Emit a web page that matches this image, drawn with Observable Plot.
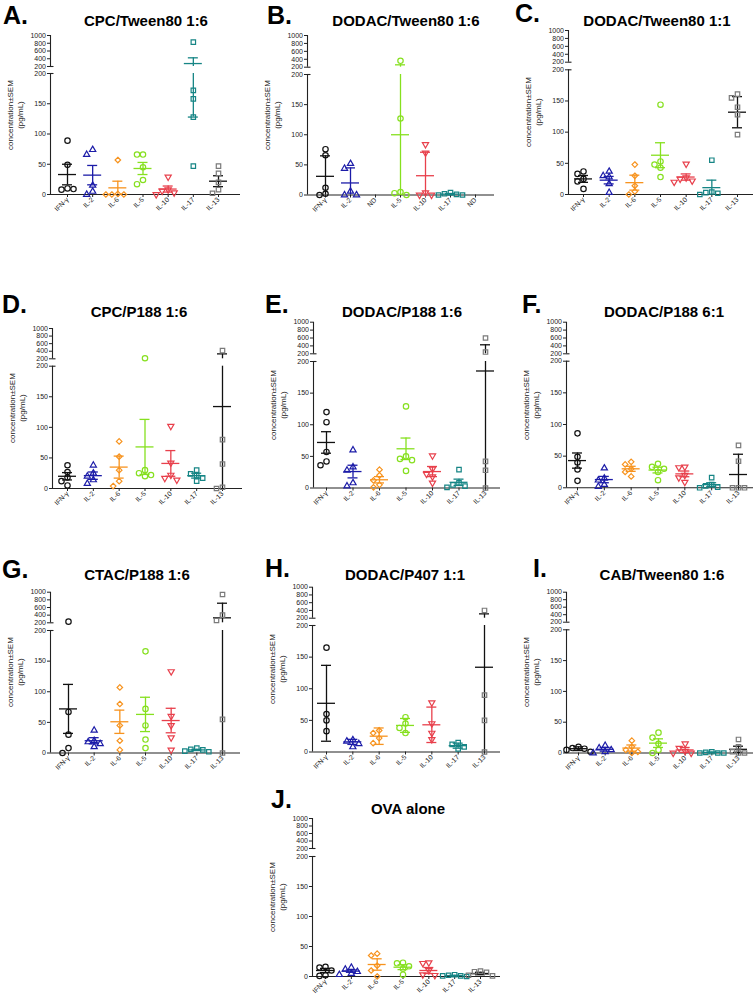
<!DOCTYPE html>
<html><head><meta charset="utf-8">
<script src="https://cdn.jsdelivr.net/npm/d3@7"></script>
<script src="https://cdn.jsdelivr.net/npm/@observablehq/plot@0.6"></script>
<style>
body{margin:0;background:#fff;font-family:"Liberation Sans",Arial,sans-serif;}
#chart{position:relative;width:755px;height:1000px;overflow:hidden;background:#fff;}
.lbl{position:absolute;font-weight:bold;font-size:25px;line-height:1;white-space:nowrap;color:#000;}
.ttl{position:absolute;font-weight:bold;font-size:15px;line-height:1;white-space:nowrap;transform:translateX(-50%);color:#000;}
.yt{position:absolute;font-size:8px;line-height:10px;white-space:nowrap;text-align:center;transform:translate(-50%,-50%) rotate(-90deg);color:#222;}
</style></head><body><div id="chart"></div>
<script>
// ---------- data ----------
const cytokines = ["IFN-γ","IL-2","IL-6","IL-5","IL-10","IL-17","IL-13"];
const bLabels = ["IFN-γ","IL-2","ND","IL-5","IL-10","IL-17","ND"];
const panelKeys = ["A","B","C","D","E","F","G","H","I","J"];
const panelTitles = ["CPC/Tween80 1:6","DODAC/Tween80 1:6","DODAC/Tween80 1:1","CPC/P188 1:6","DODAC/P188 1:6","DODAC/P188 6:1","CTAC/P188 1:6","DODAC/P407 1:1","CAB/Tween80 1:6","OVA alone"];
const yTicks = [0,50,100,150,200,200.001,400,600,800,1000];

const A_pts = [[89,49,10,8,9],[74,66,15,5,0],[57,1,0,0,0],[66,66,45,24,17],[29,8,6,3,0],[830,172,158,128,47],[47,35,20,8,2]];
const A_mean = [33,32,11,43,9,276,22];
const A_err = [17,16,11,10,5,148,9];

const B_pts = [[76,66,12,2,0],[52,44,6,0,0],[],[362,127,5,3,0],[84,70,4,0,0],[4,2,1,0,0],[]];
const B_mean = [31,20,null,100,32,1.5,null];
const B_err = [34,25,null,160,39,1,null];

const C_pts = [[37,33,25,21,9],[37,30,28,17,3],[48,30,14,5,0],[144,53,48,43,28],[49,27,25,22,20],[55,4,3,2,0],[161,155,140,128,96]];
const C_mean = [25,23,19,63,28,11,132];
const C_err = [5.5,6,12,20,5,12,25];

const D_pts = [[38,27,18,12,5],[38,25,20,14,8],[77,52,30,12,4],[215,30,25,22,20],[102,42,22,17,14],[30,24,21,17,12],[415,80,40,2,0]];
const D_mean = [20,21,35,68,41,21,134];
const D_err = [6,6,18,45,21,4,196];

const E_pts = [[120,104,57,42,36],[60,33,28,8,3],[29,20,12,5,1],[129,50,46,44,27],[51,30,22,18,8],[29,8,5,3,1],[600,245,42,28,0]];
const E_mean = [72,26,13,62,26,9,185];
const E_err = [17,10,5,17,8,5,243];

const F_pts = [[86,49,40,29,11],[31,15,12,5,2],[41,37,30,25,18],[38,33,30,25,12],[33,32,20,16,9],[16,5,3,1,0],[67,42,0,0,0]];
const F_mean = [43,13,30,28,22,5,21];
const F_err = [12,5,4,4.5,4.5,3,32];

const G_pts = [[230,67,30,8,0],[37,20,18,15,10],[107,80,45,20,5],[166,72,45,22,8],[133,60,45,25,5],[8,6,5,3,2],[940,400,260,55,0]];
const G_mean = [72,20,51,63,53,5,330];
const G_err = [40,5,19,28,20,1,382];

const H_pts = [[165,60,50,33],[19,17,13,8],[34,30,22,14],[55,45,38,30],[78,45,30,20],[15,12,8,5],[400,90,50,0]];
const H_mean = [77,16,25,42,43,10,134];
const H_err = [60,4,13,11,28,4,178];

const I_pts = [[10,8,7,5,2],[12,8,5,2,0],[20,10,5,2,0],[33,25,15,5,0],[15,8,3,0,0],[2,1,0,0,0],[22,10,2,0,0]];
const I_mean = [7,6,8,16,5,1,6];
const I_err = [3,3,5,7,4,0.5,5];

const J_pts = [[16,15,10,2,1],[15,12,8,5,3],[38,35,18,10,0],[23,22,17,13,3],[23,22,10,3,2],[3,2,1,1,0],[9,8,7,2,1]];
const J_mean = [10,9,20,15.5,10,1.5,5];
const J_err = [3.5,2,9.5,4,5,0.5,2];

const panelData = {A:[A_pts,A_mean,A_err],B:[B_pts,B_mean,B_err],C:[C_pts,C_mean,C_err],D:[D_pts,D_mean,D_err],E:[E_pts,E_mean,E_err],F:[F_pts,F_mean,F_err],G:[G_pts,G_mean,G_err],H:[H_pts,H_mean,H_err],I:[I_pts,I_mean,I_err],J:[J_pts,J_mean,J_err]};

// ---------- style ----------
const pointColors = ["#111111","#1c1ca8","#f7931e","#86e01f","#e8404c","#168585","#7a7a7a"];
const lineColors  = ["#111111","#1c1ca8","#f7931e","#86e01f","#e8404c","#168585","#111111"];
const triDown = {draw(context, size) {
  const s3 = Math.sqrt(3);
  const y = -Math.sqrt(size / (s3 * 3));
  context.moveTo(0, -y * 2);
  context.lineTo(-s3 * y, y);
  context.lineTo(s3 * y, y);
  context.closePath();
}};
const symbols = ["circle","triangle","diamond2","circle",triDown,"square","square"];
const symR = [2.7, 2.3, 2.5, 2.7, 2.3, 2.5, 2.5];

// ---------- layout (page pixels) ----------
const layout = {
 A:{axisX:50,endX:240,xFirst:67,xLast:218,y0:194,y200l:73,y200u:66,y1000:35,lx:3,lb:23.5,tx:146,tb:26},
 B:{axisX:307,endX:494,xFirst:325,xLast:475,y0:194.5,y200l:74,y200u:66.7,y1000:35,lx:267,lb:23.5,tx:406,tb:26},
 C:{axisX:568,endX:753,xFirst:583,xLast:737,y0:194,y200l:69.3,y200u:61.7,y1000:30,lx:515,lb:22,tx:657,tb:26},
 D:{axisX:52,endX:242,xFirst:67,xLast:222,y0:488,y200l:365.7,y200u:358.3,y1000:328,lx:2,lb:313,tx:139,tb:317},
 E:{axisX:313,endX:500,xFirst:326,xLast:485,y0:487.5,y200l:361,y200u:353.3,y1000:321.7,lx:265,lb:313,tx:402,tb:317},
 F:{axisX:566,endX:753,xFirst:577,xLast:738,y0:487.3,y200l:360.7,y200u:353.3,y1000:321.7,lx:522,lb:313,tx:664,tb:317},
 G:{axisX:50,endX:240,xFirst:68,xLast:222,y0:752.5,y200l:630,y200u:622.3,y1000:591.7,lx:2,lb:578,tx:137,tb:580},
 H:{axisX:312,endX:500,xFirst:326,xLast:484,y0:751.5,y200l:625,y200u:617.7,y1000:586.7,lx:265,lb:577,tx:405,tb:580},
 I:{axisX:566,endX:753,xFirst:578,xLast:738,y0:752.5,y200l:629.3,y200u:621.7,y1000:591.7,lx:533,lb:577,tx:662,tb:580},
 J:{axisX:312,endX:500,xFirst:325,xLast:480,y0:976,y200l:856,y200u:848,y1000:818,lx:271,lb:808,tx:408,tb:814}
};

const chart = document.getElementById("chart");

function addDiv(cls, text, left, top) {
  const d = document.createElement("div");
  d.className = cls; d.textContent = text;
  d.style.left = left + "px"; d.style.top = top + "px";
  chart.appendChild(d); return d;
}

function drawPanel(key, idx) {
  const L = layout[key];
  const [pts, means, errs] = panelData[key];
  const labels = key === "B" ? bLabels : cytokines;
  const step = (L.xLast - L.xFirst) / 6;
  const x0 = (L.axisX - L.xFirst) / step, x1 = (L.endX - L.xFirst) / step;
  const lowK = (L.y0 - L.y200l) / 200, upK = (L.y200u - L.y1000) / 800;
  // broken axis: 0–200 linear, then a gap, then 200–1000 compressed
  const brk = v => v <= 200 ? v * lowK : (L.y0 - L.y200u) + (v - 200) * upK;
  const ax = "#222";
  const marks = [
    Plot.ruleX([x0], {y1: 0, y2: 200, stroke: ax, strokeWidth: 1.1}),
    Plot.ruleX([x0], {y1: 200.001, y2: 1000, stroke: ax, strokeWidth: 1.1}),
    Plot.ruleY([0], {x1: x0, x2: x1, stroke: ax, strokeWidth: 1.1}),
    Plot.ruleY([200, 200.001], {y: d => d, x1: x0, x2: x0 + 3.5 / step, stroke: ax, strokeWidth: 1.1}),
    Plot.ruleY(yTicks, {y: d => d, x1: x0 - 3 / step, x2: x0, stroke: ax, strokeWidth: 1}),
    Plot.text(yTicks, {y: d => d, x: x0, dx: -4.5, text: d => String(Math.round(d)), textAnchor: "end", fontSize: 7, fill: "#222"})
  ];
  const mh = 9 / step, ch = 5 / step;
  pts.forEach((arr, i) => {
    const placed = [], dots = [];
    arr.forEach(v => {
      const py = brk(v);
      let off = 0;
      for (const c of [0, -6, 6, -12, 12, -18, 18]) {
        if (placed.every(p => Math.hypot(p.dx - c, p.py - py) >= 5.5)) { off = c; break; }
      }
      placed.push({dx: off, py});
      dots.push({x: i + off / step, v});
    });
    const m = means[i], e = errs[i];
    if (m != null) {
      const lo = Math.max(0, m - e), hi = m + e;
      const segs = (lo < 200 && hi > 200) ? [{y1: lo, y2: 200}, {y1: 200.001, y2: hi}] : [{y1: lo, y2: hi}];
      const caps = [hi]; if (m - e > 0) caps.push(m - e);
      marks.push(Plot.ruleX(segs, {x: () => i, y1: "y1", y2: "y2", stroke: lineColors[i], strokeWidth: 1.3}));
      marks.push(Plot.ruleY(caps, {y: d => d, x1: i - ch, x2: i + ch, stroke: lineColors[i], strokeWidth: 1.3}));
      marks.push(Plot.ruleY([m], {y: d => d, x1: i - mh, x2: i + mh, stroke: lineColors[i], strokeWidth: 1.3}));
    }
    marks.push(Plot.dot(dots, {x: "x", y: "v", symbol: symbols[i], r: symR[i], stroke: pointColors[i], strokeWidth: 1.2, fill: "none"}));
  });
  const svg = Plot.plot({
    width: 755, height: 1000,
    marginLeft: L.axisX, marginRight: 755 - L.endX, marginTop: L.y1000, marginBottom: 1000 - L.y0,
    style: {position: "absolute", left: "0px", top: "0px", background: "transparent", overflow: "visible",
            fontFamily: "'Liberation Sans', Arial, sans-serif", fontSize: "6.8px", color: "#222"},
    x: {domain: [x0, x1], ticks: d3.range(7), tickFormat: i => labels[i], tickRotate: -45, tickSize: 3, tickPadding: 1, label: null},
    y: {transform: brk, range: [L.y0, L.y1000], axis: null},
    marks
  });
  chart.appendChild(svg);
  addDiv("lbl", key + ".", L.lx, L.lb - 21);
  addDiv("ttl", panelTitles[idx], L.tx, L.tb - 12.7);
  const yt = document.createElement("div");
  yt.className = "yt";
  yt.innerHTML = "concentration±SEM<br>(pg/mL)";
  yt.style.left = (L.axisX - 34) + "px";
  yt.style.top = ((L.y1000 + L.y0) / 2) + "px";
  chart.appendChild(yt);
}

panelKeys.forEach((k, i) => drawPanel(k, i));
</script></body></html>
